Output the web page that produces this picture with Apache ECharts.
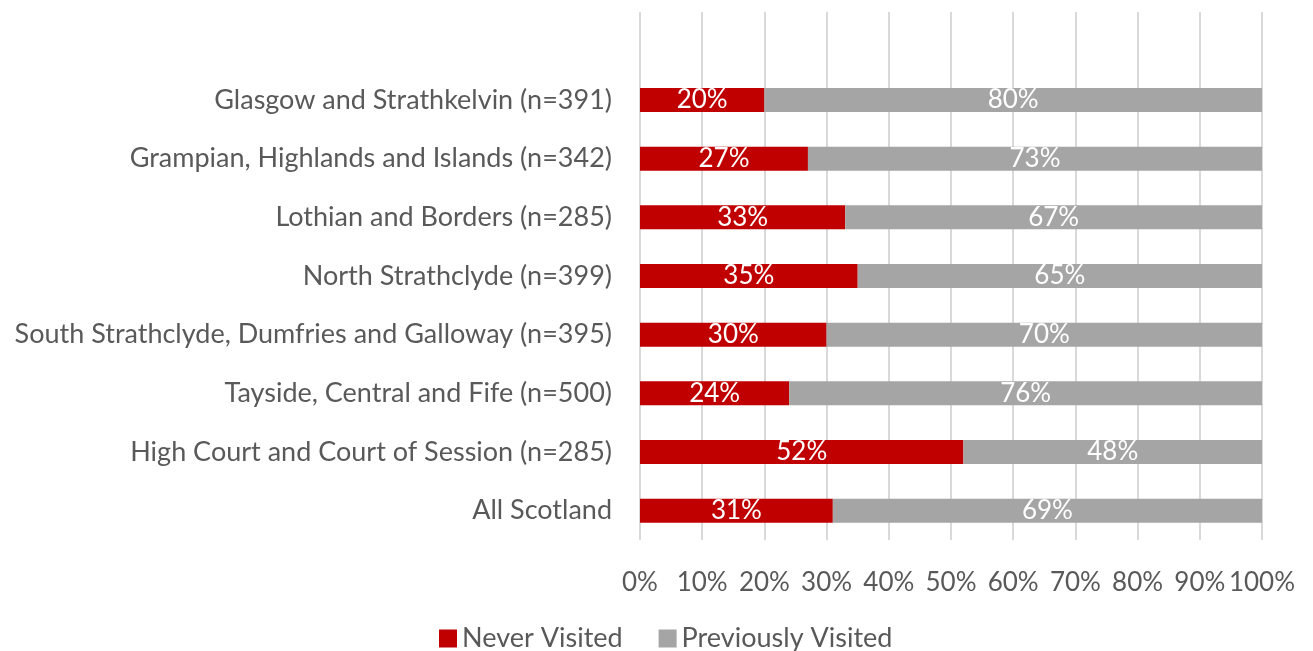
<!DOCTYPE html>
<html>
<head>
<meta charset="utf-8">
<script src="https://cdn.jsdelivr.net/npm/echarts@6/dist/echarts.min.js"></script>
<style>
  html, body { margin: 0; padding: 0; background: #fff; }
  #chart { width: 1313px; height: 651px; }
</style>
</head>
<body>
<div id="chart"></div>
<script>
// Regions (top to bottom); the leading blank row leaves headroom above the first bar
const categories = [
  '',
  'Glasgow and Strathkelvin (n=391)',
  'Grampian, Highlands and Islands (n=342)',
  'Lothian and Borders (n=285)',
  'North Strathclyde (n=399)',
  'South Strathclyde, Dumfries and Galloway (n=395)',
  'Tayside, Central and Fife (n=500)',
  'High Court and Court of Session (n=285)',
  'All Scotland'
];
const neverVisited      = [null, 20, 27, 33, 35, 30, 24, 52, 31];
const previouslyVisited = [null, 80, 73, 67, 65, 70, 76, 48, 69];
const xTicks = [0, 10, 20, 30, 40, 50, 60, 70, 80, 90, 100];

const FONT = 'Lato, "Open Sans", sans-serif';
const TEXT = '#595959';

const chart = echarts.init(document.getElementById('chart'), null, { renderer: 'canvas' });

const labelCfg = {
  show: true,
  position: 'inside',
  color: '#ffffff',
  fontFamily: FONT,
  fontSize: 26,
  formatter: p => p.value == null ? '' : p.value + '%'
};

chart.setOption({
  animation: false,
  backgroundColor: '#ffffff',
  grid: { left: 640, right: 51, top: 12, bottom: 111, containLabel: false },
  legend: {
    bottom: -6,
    left: 434,
    itemWidth: 18,
    itemHeight: 18,
    itemGap: 36,
    icon: 'rect',
    textStyle: { color: TEXT, fontFamily: FONT, fontSize: 27 },
    data: ['Never Visited', 'Previously Visited']
  },
  xAxis: {
    type: 'value',
    min: xTicks[0],
    max: xTicks[xTicks.length - 1],
    interval: 10,
    axisLine: { show: false },
    axisTick: { show: false },
    splitLine: { show: true, lineStyle: { color: '#d9d9d9', width: 2 } },
    axisLabel: {
      color: TEXT,
      fontFamily: FONT,
      fontSize: 26,
      margin: 30,
      formatter: v => v + '%'
    }
  },
  yAxis: {
    type: 'category',
    inverse: true,
    data: categories,
    axisLine: { show: false },
    axisTick: { show: false },
    axisLabel: { color: TEXT, fontFamily: FONT, fontSize: 27, margin: 28 }
  },
  series: [
    {
      name: 'Never Visited',
      type: 'bar',
      stack: 'total',
      barWidth: 24,
      itemStyle: { color: '#c00000' },
      label: labelCfg,
      data: neverVisited
    },
    {
      name: 'Previously Visited',
      type: 'bar',
      stack: 'total',
      barWidth: 24,
      itemStyle: { color: '#a5a5a5' },
      label: labelCfg,
      data: previouslyVisited
    }
  ]
});
</script>
</body>
</html>
